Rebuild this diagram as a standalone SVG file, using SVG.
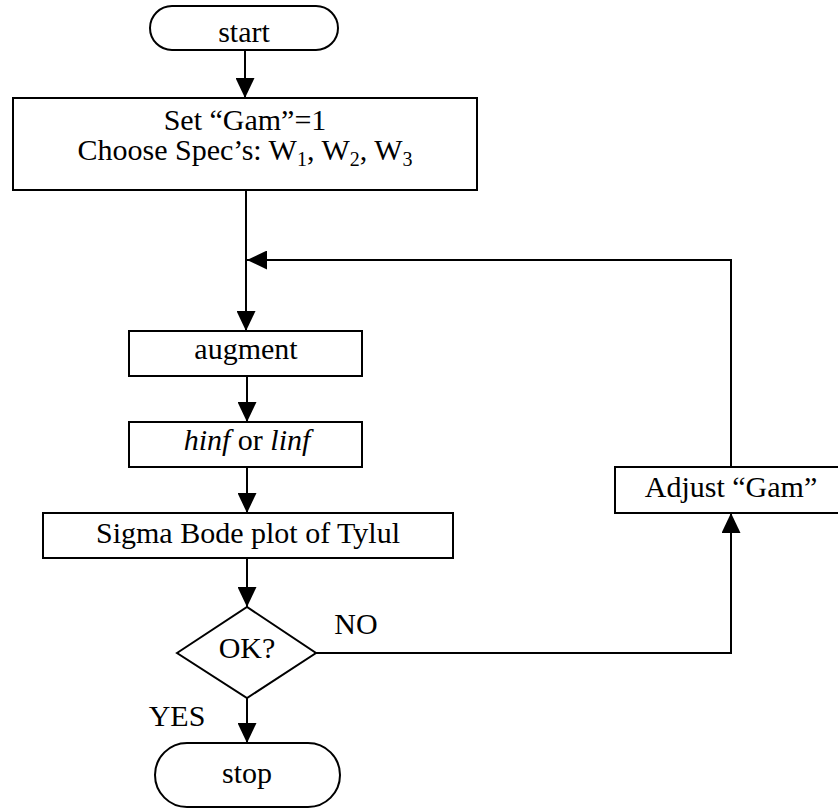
<svg xmlns="http://www.w3.org/2000/svg" width="838" height="812" viewBox="0 0 838 812">
<style>
.shape{fill:#fff;stroke:#000;stroke-width:2}
.t{font-family:"Liberation Serif","Times New Roman",serif;font-size:30px;fill:#000;text-anchor:middle}
.i{font-style:italic}
.c{fill:none;stroke:#000;stroke-width:2}
</style>
<defs>
<marker id="ah" viewBox="0 0 20 20" refX="20" refY="10" markerWidth="20" markerHeight="19" markerUnits="userSpaceOnUse" orient="auto" preserveAspectRatio="none">
<path d="M0,0 L20,10 L0,20 z" fill="#000"/>
</marker>
</defs>
<rect width="838" height="812" fill="#fff"/>
<g id="connectors">
<line class="c" x1="245" y1="50" x2="245" y2="98" marker-end="url(#ah)"/>
<line class="c" x1="246" y1="190" x2="246" y2="331" marker-end="url(#ah)"/>
<polyline class="c" points="731,467 731,260 247,260" marker-end="url(#ah)"/>
<line class="c" x1="247" y1="376" x2="247" y2="422" marker-end="url(#ah)"/>
<line class="c" x1="247" y1="467" x2="247" y2="513" marker-end="url(#ah)"/>
<line class="c" x1="247" y1="558" x2="247" y2="607" marker-end="url(#ah)"/>
<line class="c" x1="247" y1="698" x2="247" y2="743" marker-end="url(#ah)"/>
<polyline class="c" points="316,653 731,653 731,513" marker-end="url(#ah)"/>
<text class="t" x="356" y="634">NO</text>
<text class="t" x="177" y="726">YES</text>
</g>
<g id="start">
<rect class="shape" x="150" y="6" width="188" height="44" rx="22" ry="22"/>
<text class="t" x="244" y="42">start</text>
</g>
<g id="init">
<rect class="shape" x="13" y="98" width="464" height="92"/>
<text class="t" x="245" y="130">Set “Gam”=1</text>
<text class="t" x="245" y="160">Choose Spec’s: W<tspan font-size="20" dy="6">1</tspan><tspan dy="-6">, W</tspan><tspan font-size="20" dy="6">2</tspan><tspan dy="-6">, W</tspan><tspan font-size="20" dy="6">3</tspan></text>
</g>
<g id="augment">
<rect class="shape" x="129" y="331" width="233" height="45"/>
<text class="t" x="246" y="359">augment</text>
</g>
<g id="hinf">
<rect class="shape" x="129" y="422" width="233" height="45"/>
<text class="t" x="247" y="450"><tspan class="i">hinf</tspan> or <tspan class="i">linf</tspan></text>
</g>
<g id="sigma">
<rect class="shape" x="43" y="513" width="410" height="45"/>
<text class="t" x="248" y="543">Sigma Bode plot of Tylul</text>
</g>
<g id="ok">
<polygon class="shape" points="177,653 247,607 316,653 247,698"/>
<text class="t" x="247" y="658">OK?</text>
</g>
<g id="adjust">
<rect class="shape" x="615" y="467" width="232" height="46"/>
<text class="t" x="731" y="497">Adjust “Gam”</text>
</g>
<g id="stop">
<rect class="shape" x="155" y="743" width="185" height="64" rx="32" ry="32"/>
<text class="t" x="247" y="783">stop</text>
</g>
</svg>
